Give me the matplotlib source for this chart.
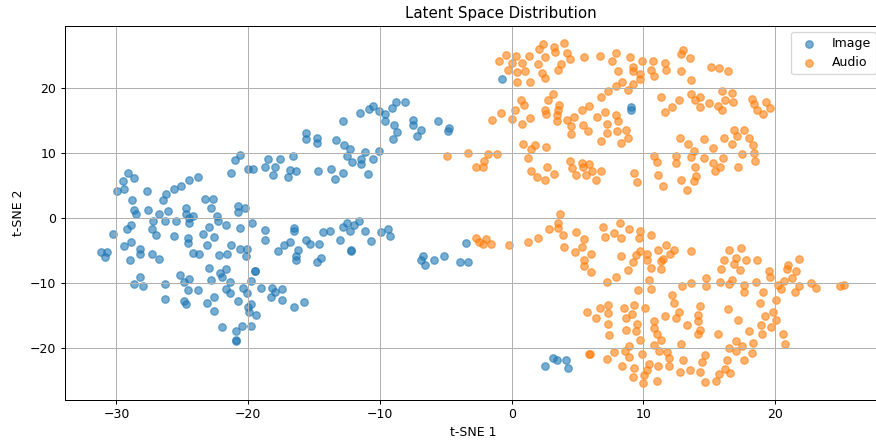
import matplotlib
matplotlib.use("Agg")
import matplotlib.pyplot as plt

# t-SNE embedding of the image latents
image_x = [
    -20.6, -21.0, -21.3, -20.05, -19.6, -18.5, -18.7, -18.1,
    -29.1, -29.5, -28.7, -29.95, -29.4, -27.7, -28.8, -26.25, -26.45, -25.6, -25.1, -24.5, -23.8,
    -28.7, -28.5, -27.6, -26.8, -26.1, -27.2, -26.3, -25.5, -24.7, -24.7, -24.5, -24.2, -24.5,
    -23.3, -22.7, -22.8, -22.4, -22.3, -21.7, -20.8, -20.8, -20.25, -20.6, -19.7, -18.7, -18.7,
    -28.9, -29.2, -27.3, -27.0, -30.25, -25.6, -24.6, -24.6, -23.4, -23.0, -22.6, -23.1,
    -29.4, -28.9, -28.2, -28.2, -27.3, -26.8, -29.0, -31.2, -30.7, -30.9,
    -24.2, -23.7, -22.2, -21.6, -21.3, -20.6, -20.1, -20.2,
    -23.0, -22.1, -22.0, -21.7, -22.85, -25.2, -24.5, -24.9, -28.2, -28.7, -28.0, -26.3,
    -24.6, -23.8, -21.4, -21.7, -21.4, -20.4, -20.1, -19.75, -19.5, -19.5, -19.0, -18.2, -18.3,
    -20.8, -22.6, -23.15, -22.6, -24.9, -24.7, -26.3, -20.0, -19.8, -19.95, -19.4,
    -22.0, -20.9, -20.5, -19.8, -20.9, -20.9,
    -17.7, -17.3, -16.8, -16.2, -16.4, -16.4, -14.5, -14.75, -15.6, -15.3, -14.6, -12.2, -12.2,
    -13.0, -10.7, -17.4, -17.4, -18.0, -16.5, -15.8,
    -6.75, -6.6, -6.9, -5.9, -5.15,
    -12.8, -11.5, -10.8, -10.5, -10.1, -9.6, -9.6, -9.1, -8.8, -8.1, -8.9, -8.7, -9.0,
    -7.5, -7.5, -6.9, -7.2, -5.6, -4.85, -4.75,
    -15.6, -15.6, -14.8, -14.8, -13.35, -12.7, -12.3, -12.5, -12.1, -11.4, -11.4, -11.1,
    -10.5, -10.1, -10.9, -12.8, -13.4, -13.7, -14.7, -16.6, -16.8, -16.4, -17.0, -17.6, -18.0,
    -16.5, -16.5, -14.3, -13.8, -12.8, -12.5, -12.3, -11.95, -11.6, -11.1, -9.9, -9.4, -9.2,
    -3.9, -3.3, -3.5,
    -0.76, 9.04, 9.04, 3.1, 3.4, 4.1, 2.5, 4.25,
]
image_y = [
    9.7, 8.9, 7.0, 7.5, 7.5, 9.1, 7.9, 6.7,
    7.0, 5.7, 6.1, 4.2, 4.5, 4.2, 2.8, 3.7, 2.8, 4.5, 4.9, 5.8, 6.4,
    1.3, 0.6, 1.3, 0.6, 1.1, -0.5, -0.4, -0.4, 1.6, 0.6, 0.0, 0.3, -0.8,
    2.9, 3.0, 1.5, 0.3, -0.5, -1.1, 1.8, 1.0, 1.6, -1.5, -0.8, -1.8, -3.4,
    -1.0, -1.7, -1.7, -2.6, -2.4, -2.7, -3.1, -3.8, -2.4, -1.4, -2.9, -4.2,
    -4.3, -3.7, -4.8, -5.5, -5.5, -6.3, -6.5, -5.2, -5.2, -6.0,
    -5.3, -5.5, -5.6, -5.5, -4.2, -4.7, -4.7, -5.9,
    -7.7, -8.5, -9.0, -7.9, -9.5, -8.7, -9.3, -9.9, -9.0, -10.1, -10.4, -10.1,
    -11.1, -11.1, -9.9, -10.9, -11.5, -10.7, -11.5, -9.7, -8.1, -8.2, -10.8, -10.7, -12.1,
    -12.8, -12.2, -13.1, -14.3, -12.7, -13.2, -12.4, -13.7, -13.2, -14.4, -14.9,
    -16.8, -17.3, -16.6, -16.6, -18.8, -18.9,
    -5.0, -4.1, -3.6, -4.9, -5.8, -6.4, -6.2, -6.8, -3.3, -4.0, -4.0, -4.9, -5.0,
    -3.3, -3.5, -10.9, -12.6, -11.3, -13.7, -12.9,
    -5.9, -7.2, -6.5, -6.5, -5.8,
    14.9, 16.2, 16.8, 17.3, 16.5, 16.0, 15.0, 17.0, 17.9, 17.9, 14.4, 13.2, 12.2,
    15.1, 14.4, 13.6, 12.7, 15.0, 13.4, 13.8,
    13.1, 12.1, 12.3, 11.6, 12.0, 11.2, 10.7, 9.6, 8.6, 9.1, 8.4, 10.2,
    9.1, 10.3, 6.8, 7.0, 6.0, 7.5, 7.3, 9.5, 7.4, 7.3, 6.4, 9.1, 7.9,
    -1.5, -2.05, -2.15, -1.95, -1.3, -0.7, -1.95, -1.1, -0.5, -2.05, -2.2, -1.7, -2.7,
    -6.7, -6.8, -3.85,
    21.4, 17.1, 16.7, -21.5, -21.9, -21.8, -22.8, -23.1,
]

# t-SNE embedding of the audio latents
audio_x = [
    2.4, 3.2, 3.3, 4.0, 4.2, 2.1, 2.5, 3.75, 3.5, 4.4, 2.0, 2.3, 2.5, 1.3, 0.76, 1.04, 1.4,
    0.33, -0.46, -1.0, 0.0, -0.25, 0.4, 0.4, 5.5, 6.7, 7.9, 7.6, 8.1, 9.0, 9.2, 9.2, 9.7,
    9.75, 9.85, 10.7, 10.55, 10.8, 8.4, 7.9, 8.8, 9.2, 7.3, 6.8,
    3.1, 2.75, 3.6, 3.5, 3.4, 3.4, 2.5, 2.6, 0.7, 0.96, 0.28, 0.05, 0.8, 1.4, -0.84, -1.5,
    4.2, 4.7, 4.5, 4.5, 5.3, 5.9, 5.4, 5.8, 6.5, 7.1, 7.2, 7.2, 7.9, 8.1, 8.0, 8.7, 8.8, 8.3, 6.8,
    0.84, 1.8, 1.5, 2.6, 1.2, 1.5, 1.9, 2.5, 2.7, 3.2, 4.4, 4.6, 4.85, 5.3, 5.4, 5.6, 5.9,
    6.1, 6.4, 6.8, 9.3, 9.5, 10.8, 11.0, 11.1,
    -4.9, -3.3, -2.7, -2.2, -2.1, -1.8, -1.1, 11.3,
    13.0, 12.85, 13.5, 11.6, 11.7, 12.85, 13.6, 15.1, 15.75, 16.4,
    11.6, 12.2, 12.7, 13.6, 13.9, 14.3, 14.3, 14.96, 15.65, 15.98, 15.98, 16.7, 16.2, 16.8,
    18.2, 18.4, 18.6, 19.1, 19.3, 19.6,
    12.75, 13.4, 13.8, 14.6, 15.3, 16.1, 16.7, 16.9, 17.1, 17.6, 18.0, 18.3, 18.4, 17.5, 18.5,
    17.2, 16.05, 15.8, 15.3, 15.4, 14.6, 13.9, 14.0, 13.8, 13.6, 13.3, 12.85, 12.5, 12.5, 11.5,
    -2.7, -2.5, -2.15, -1.95, -1.6, -0.2, 1.2, 2.0, 2.8, 3.5, 3.7, 3.5, 3.9, 4.0, 4.9, 5.5,
    5.3, 4.8, 5.5, 5.45, 6.0, 6.0, 6.9, 7.1, 7.8, 8.2, 8.3, 8.9, 9.7, 9.65, 10.6, 8.3, 9.2,
    9.4, 9.7, 10.25, 10.25, 11.1, 11.3, 10.6, 8.8, 7.9, 7.2, 10.4, 9.6, 10.6,
    5.7, 6.4, 6.7, 7.3, 7.3, 7.3, 7.4, 8.5, 8.7, 9.1, 9.25, 9.5, 9.4, 8.7, 10.1, 10.8, 10.8,
    11.0, 9.7, 10.8, 8.9, 8.6, 8.9, 7.8, 7.2, 5.9, 5.95, 9.9, 10.4, 10.25, 9.3, 9.2, 10.0,
    10.05, 8.35, 11.0, 11.1,
    11.7, 12.3, 12.0, 11.5, 11.35, 13.6, 16.5, 17.4, 16.1, 15.9, 17.05, 16.9, 17.3, 17.8,
    18.65, 19.5, 19.6, 21.0, 20.9, 21.6, 21.8, 21.3, 20.7, 20.4, 20.2, 21.5, 21.8, 22.7,
    23.1, 24.9, 25.2,
    12.95, 13.6, 14.75, 14.75, 15.8, 16.5, 16.7, 17.65, 17.65, 18.55, 19.1, 18.85, 20.05,
    19.8, 20.05, 19.2, 18.9, 19.7, 19.0, 20.6, 20.75, 18.3, 18.0, 17.2, 16.4, 17.5, 17.0,
    17.05, 16.5, 18.2, 17.66, 16.3, 16.2, 16.6, 15.7, 15.5, 14.7, 14.3, 14.45, 14.7, 13.5,
    13.0, 12.8, 11.9, 11.9, 11.8, 11.2,
    11.3, 11.65, 12.3, 12.2, 12.5, 12.7, 13.3, 14.1, 14.3, 14.1, 14.3, 14.1, 15.65, 12.85,
]
audio_y = [
    26.8, 26.4, 25.6, 26.9, 25.4, 26.0, 24.8, 23.7, 22.8, 24.5, 23.7, 22.3, 21.5, 25.0, 23.9, 22.7, 20.9,
    25.0, 25.1, 24.1, 23.9, 22.8, 22.5, 20.9, 24.8, 25.0, 25.4, 24.1, 22.6, 24.8, 23.3, 22.7, 22.2,
    21.4, 24.2, 24.1, 22.8, 21.8, 20.9, 20.3, 19.7, 20.7, 19.5, 18.6,
    19.1, 18.2, 17.4, 16.7, 15.9, 14.9, 16.7, 16.0, 18.1, 17.4, 16.6, 15.3, 14.5, 15.4, 16.1, 15.1,
    15.1, 15.5, 14.1, 12.9, 16.7, 17.2, 14.3, 13.4, 15.5, 16.3, 14.5, 13.1, 15.9, 15.0, 13.4, 13.5, 12.3, 11.6, 11.9,
    11.4, 11.3, 10.7, 10.9, 9.2, 7.2, 6.4, 5.8, 7.9, 6.8, 8.8, 7.7, 6.7, 8.5, 7.8, 6.6, 8.4,
    7.3, 5.8, 7.3, 6.9, 5.5, 9.5, 8.7, 6.7,
    9.5, 10.0, 7.9, 7.9, 8.8, 9.8, 9.8, 18.7,
    25.8, 25.2, 24.6, 23.8, 22.8, 22.6, 21.2, 23.2, 23.1, 22.6,
    16.3, 17.1, 18.2, 19.1, 18.2, 18.6, 17.1, 17.7, 17.2, 16.6, 19.5, 19.3, 18.2, 17.8,
    18.4, 17.5, 16.6, 16.0, 17.8, 17.0,
    12.3, 11.4, 10.4, 12.2, 10.8, 12.3, 11.4, 13.6, 12.6, 13.6, 12.3, 11.3, 10.0, 9.9, 8.8,
    7.9, 9.2, 7.9, 8.5, 7.2, 9.2, 7.8, 6.5, 5.7, 9.4, 4.3, 5.8, 9.6, 8.5, 4.9,
    -3.1, -3.6, -3.95, -3.2, -4.0, -4.2, -3.6, -3.1, -1.7, -0.7, 0.6, -1.5, -2.6, -4.5, -2.1, -3.2,
    -4.5, -5.2, -6.4, -7.4, -5.5, -8.3, -1.3, -2.9, -2.3, -0.7, -3.1, -1.7, -2.05, -3.1, -2.6, -5.9, -6.7,
    -5.6, -5.0, -5.5, -6.4, -4.9, -6.6, -7.6, -8.05, -9.1, -9.8, -9.5, -11.1, -10.9,
    -14.5, -15.3, -13.9, -13.3, -14.6, -16.3, -18.05, -13.8, -15.3, -14.7, -13.3, -16.3, -17.3, -17.2, -13.9, -15.9, -16.9,
    -17.9, -18.8, -19.5, -19.6, -20.5, -21.4, -20.6, -21.7, -20.9, -20.9, -20.9, -22.5, -23.3, -23.1, -24.4, -25.3,
    -24.1, -22.8, -25.1, -22.7,
    -4.1, -4.9, -5.5, -6.3, -7.8, -5.0, -4.9, -4.6, -6.4, -7.8, -6.15, -7.1, -8.05, -6.5,
    -6.4, -8.1, -9.1, -7.2, -7.8, -8.2, -6.3, -9.2, -9.7, -10.9, -10.3, -11.3, -10.5, -10.0,
    -10.7, -10.5, -10.3,
    -10.4, -10.0, -9.2, -10.5, -9.9, -10.2, -9.5, -10.3, -11.4, -9.9, -11.3, -13.0, -12.6,
    -14.4, -15.6, -15.1, -16.4, -16.7, -17.9, -17.9, -19.3, -19.2, -17.3, -15.7, -14.0, -19.6, -18.9,
    -20.5, -20.0, -20.8, -21.8, -21.9, -23.2, -23.8, -24.0, -25.0, -25.2, -23.7, -22.1, -21.0, -23.3,
    -21.9, -23.7, -22.8, -21.5, -20.6, -20.5,
    -18.8, -15.0, -13.1, -11.9, -15.4, -14.5, -16.4, -14.9, -13.5, -15.9, -17.2, -17.9, -17.8, -19.3,
]

W, H, DPI = 877, 441, 90
fig = plt.figure(figsize=(W / DPI, H / DPI), dpi=DPI)
# the axes run a few pixels past the right edge of the canvas
ax = fig.add_axes([65 / W, (H - 399.5) / H, 817 / W, 373.8 / H])

ax.scatter(image_x, image_y, alpha=0.6, label="Image")
ax.scatter(audio_x, audio_y, alpha=0.6, label="Audio")

ax.set_xlim(-33.9, 28.1)
ax.set_ylim(-27.9, 29.6)
ax.set_title("Latent Space Distribution", x=0.533)
ax.set_xlabel("t-SNE 1")
ax.set_ylabel("t-SNE 2")
ax.legend(loc="upper right")
ax.grid(True)

fig.savefig("out.png", dpi=DPI)
